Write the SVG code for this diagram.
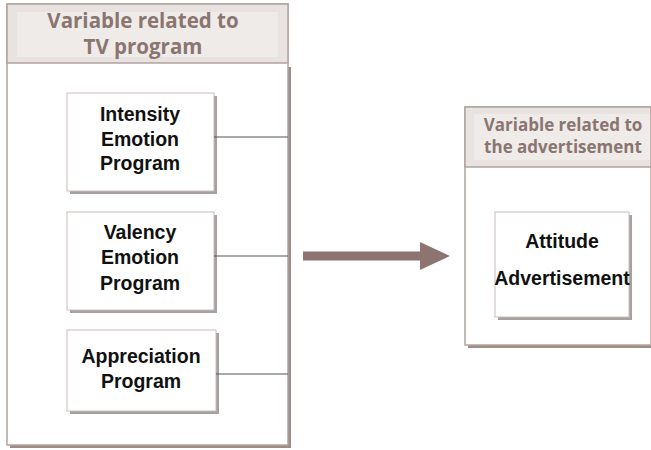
<svg xmlns="http://www.w3.org/2000/svg" width="651" height="450" viewBox="0 0 651 450">
<defs>
<style>
.cont{fill:#ffffff;stroke:#b3a39f;stroke-width:1.5}
.hdr{fill:#e8e2e0;stroke:#b3a39f;stroke-width:1.5}
.hin{fill:#efebe9}
.shd{fill:#9e8c88}
.box{fill:#ffffff;stroke:#c8bcb9;stroke-width:1}
.bshd{fill:#a8a0a0}
.ht{font-family:"Open Sans","DejaVu Sans",sans-serif;font-weight:bold;fill:#8a7570;text-anchor:middle}
.bt{font-family:"Liberation Sans",Arial,sans-serif;font-weight:bold;font-size:19.5px;fill:#111111;text-anchor:middle}
.ln{stroke:#555555;stroke-width:1.2;fill:none}
</style>
</defs>
<g id="tv-container">
<rect class="shd" x="288" y="67" width="3" height="381"/>
<rect class="shd" x="10" y="445" width="281" height="3"/>
<rect class="cont" x="7" y="4" width="281" height="441"/>
<rect class="hdr" x="7" y="4" width="281" height="59"/>
<rect class="hin" x="17" y="12" width="261" height="45"/>
<text class="ht" x="143" y="28" font-size="20.5">Variable related to</text>
<text class="ht" x="143" y="54" font-size="20.5">TV program</text>
</g>
<g id="intensity">
<rect class="bshd" x="70" y="96" width="147" height="98"/>
<rect class="box" x="67" y="93" width="147" height="98"/>
<text class="bt" x="140" y="121">Intensity</text>
<text class="bt" x="140" y="146">Emotion</text>
<text class="bt" x="140" y="170">Program</text>
</g>
<g id="valency">
<rect class="bshd" x="70" y="215" width="147" height="98"/>
<rect class="box" x="67" y="212" width="147" height="98"/>
<text class="bt" x="140" y="239">Valency</text>
<text class="bt" x="140" y="264">Emotion</text>
<text class="bt" x="140" y="290">Program</text>
</g>
<g id="appreciation">
<rect class="bshd" x="70" y="333" width="149" height="81"/>
<rect class="box" x="67" y="330" width="149" height="81"/>
<text class="bt" x="141" y="363">Appreciation</text>
<text class="bt" x="141" y="388">Program</text>
</g>
<g id="ad-container">
<rect class="shd" x="468" y="345" width="183" height="3"/>
<rect class="cont" x="465" y="107" width="186" height="238"/>
<rect class="hdr" x="465" y="107" width="186" height="60"/>
<rect class="hin" x="474" y="114" width="176" height="46"/>
<text class="ht" x="563" y="131" font-size="17">Variable related to</text>
<text class="ht" x="563" y="153" font-size="17">the advertisement</text>
</g>
<g id="attitude">
<rect class="bshd" x="498" y="215" width="134" height="105"/>
<rect class="box" x="495" y="212" width="134" height="105"/>
<text class="bt" x="562" y="248">Attitude</text>
<text class="bt" x="562" y="285" font-size="18px">Advertisement</text>
</g>
<g id="connectors">
<line class="ln" x1="214" y1="137" x2="288" y2="137"/>
<line class="ln" x1="214" y1="256" x2="288" y2="256"/>
<line class="ln" x1="216" y1="374" x2="288" y2="374"/>
<polygon fill="#8c7570" points="303,251.5 420,251.5 420,242 450,256 420,270 420,260.5 303,260.5"/>
</g>
</svg>
